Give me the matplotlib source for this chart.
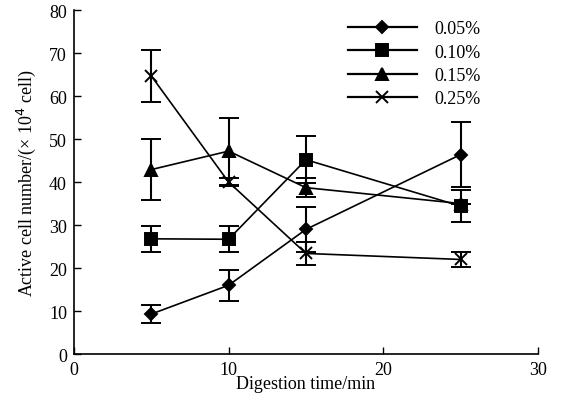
import matplotlib
matplotlib.use("Agg")
import matplotlib.pyplot as plt
from matplotlib.lines import Line2D

plt.rcParams["font.family"] = ["Liberation Serif", "DejaVu Serif"]

times = [5, 10, 15, 25]
labels = ["0.05%", "0.10%", "0.15%", "0.25%"]
markers = ["D", "s", "^", "x"]
marker_sizes = [6, 8.5, 8.5, 9]
means = [
    [9.3, 16.0, 29.0, 46.4],
    [26.8, 26.7, 45.2, 34.4],
    [42.9, 47.2, 38.7, 35.0],
    [64.7, 40.0, 23.4, 22.0],
]
errors = [
    [2.1, 3.6, 5.3, 7.5],
    [3.0, 3.0, 5.4, 3.8],
    [7.0, 7.8, 2.2, 0.0],
    [6.1, 1.0, 2.6, 1.7],
]

fig = plt.figure(figsize=(5.64, 4.10), dpi=100)
ax = fig.add_axes([0.131, 0.134, 0.823, 0.839])

handles = []
for mean, err, lab, mk, ms in zip(means, errors, labels, markers, marker_sizes):
    ax.errorbar(times, mean, yerr=err, color="black", marker=mk, markersize=ms,
                markeredgewidth=1.4, linewidth=1.2, elinewidth=1.5,
                capsize=7, capthick=1.8)
    handles.append(Line2D([], [], color="black", marker=mk, markersize=ms,
                          markeredgewidth=1.4, linewidth=1.6, label=lab))

ax.set_xlim(0, 30)
ax.set_ylim(0, 80)
ax.set_xticks([0, 10, 20, 30])
ax.set_yticks(range(0, 81, 10))
ax.tick_params(direction="in", length=5, width=1, labelsize=13, colors="black", pad=5)
ax.spines[["top", "right"]].set_visible(False)
ax.spines[["left", "bottom"]].set_linewidth(1.2)
ax.set_xlabel("Digestion time/min", fontsize=13, labelpad=-2)
ax.set_ylabel("Active cell number/(\u00d7 10$^4$ cell)", fontsize=13, labelpad=8)

ax.legend(handles=handles, loc="upper right", bbox_to_anchor=(0.912, 1.017), frameon=False,
          fontsize=13, handlelength=3.8, handletextpad=1.0, labelspacing=0.35)

fig.savefig("out.png", dpi=100, facecolor="white")
